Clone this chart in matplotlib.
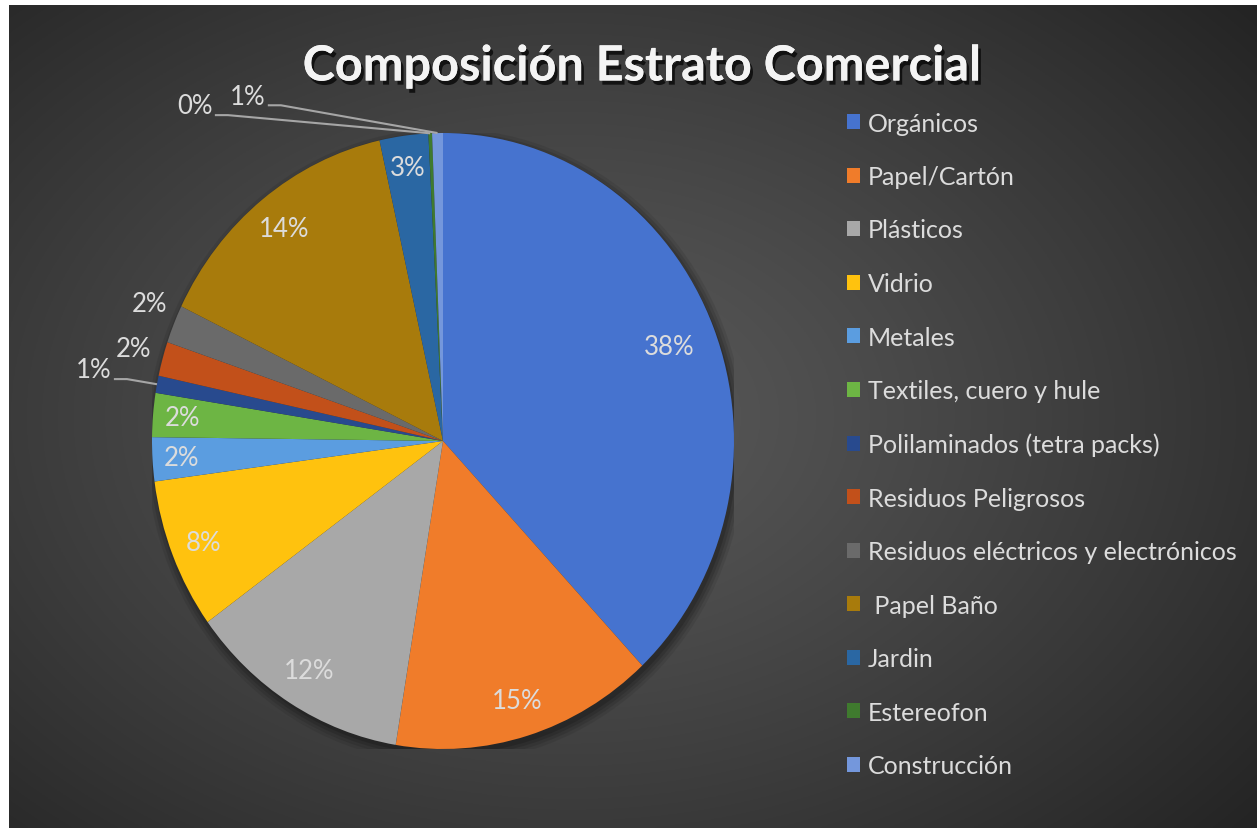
import numpy as np
import matplotlib.pyplot as plt
import matplotlib.patheffects as pe
from matplotlib.patches import Ellipse

# datos (porcentaje de cada componente)
categorias = ['Orgánicos', 'Papel/Cartón', 'Plásticos', 'Vidrio', 'Metales',
              'Textiles, cuero y hule', 'Polilaminados (tetra packs)',
              'Residuos Peligrosos', 'Residuos eléctricos y electrónicos',
              ' Papel Baño', 'Jardin', 'Estereofon', 'Construcción']
valores = [38.0, 14.6, 12.4, 7.9, 2.3, 2.3, 0.9, 1.8, 2.0, 14.3, 2.7, 0.2, 0.6]
colores = ['#4673cf', '#f07c2a', '#a8a8a8', '#ffc20e', '#5b9de0', '#6db544',
           '#284a8e', '#c2501a', '#6a6a6a', '#a87b0c', '#2a67a3', '#3f7a2e',
           '#7497dc']
titulo = 'Composición Estrato Comercial'

W, H = 1257, 829
fig = plt.figure(figsize=(W / 100, H / 100), dpi=100, facecolor='white')

# fondo con degradado radial
bg = fig.add_axes([9 / W, 0, 1 - 9 / W, 1 - 6 / H])
yy, xx = np.mgrid[0:1:400j, 0:1:600j]
d = np.sqrt(((xx - 0.45) / 0.75) ** 2 + ((yy - 0.5) / 0.8) ** 2)
d = np.clip(d / d.max(), 0, 1)
val = 0.35 - 0.21 * d ** 1.2
bg.imshow(np.dstack([val, val, val]), aspect='auto', extent=[0, 1, 0, 1])
bg.axis('off')

cx, cy, rx, ry = 443, 442, 291, 308
ax = fig.add_axes([(cx - rx) / W, (H - cy - ry) / H, 2 * rx / W, 2 * ry / H])
ax.patch.set_alpha(0)

# sombra
for k, a in enumerate([0.08, 0.10, 0.12, 0.15]):
    s = 1.03 - k * 0.01
    ax.add_patch(Ellipse((0.01, -0.016), 2 * s, 2 * s, color='black', alpha=a,
                         lw=0, zorder=0))

wedges, _ = ax.pie(valores, colors=colores, startangle=90, counterclock=False,
                   radius=1, wedgeprops=dict(linewidth=0))
ax.set_aspect('auto')
ax.set_xlim(-1, 1)
ax.set_ylim(-1, 1)
ax.axis('off')

txt_col = '#dcdcdc'
fs = 18.5
fam = 'Lato'
tot = sum(valores)

# etiquetas dentro
radios_in = {0: 0.835, 1: 0.88, 2: 0.875, 3: 0.887, 4: 0.9, 5: 0.9, 9: 0.88, 10: 0.895}
for i, r in radios_in.items():
    w = wedges[i]
    ang = np.deg2rad((w.theta1 + w.theta2) / 2)
    ax.text(r * np.cos(ang), r * np.sin(ang), f'{valores[i] / tot * 100:.0f}%',
            ha='center', va='center', color=txt_col, fontsize=fs, family=fam)

# etiquetas fuera sin linea
fuera = {8: (-1.007, 0.445), 7: (-1.065, 0.299)}
for i, (u, v) in fuera.items():
    ax.text(u, v, f'{valores[i] / tot * 100:.0f}%', ha='center', va='center',
            color=txt_col, fontsize=fs, family=fam)

# etiquetas con linea guia
guia = {6: (-1.199, 0.231), 11: (-0.852, 1.088), 12: (-0.670, 1.12)}
for i, (u, v) in guia.items():
    w = wedges[i]
    ang = np.deg2rad((w.theta1 + w.theta2) / 2)
    ex, ey = np.cos(ang), np.sin(ang)
    ax.text(u, v, f'{valores[i] / tot * 100:.0f}%', ha='center', va='center',
            color=txt_col, fontsize=fs, family=fam, clip_on=False)
    x0 = u + 0.068
    y0 = v - 0.03
    ax.plot([x0, x0 + 0.045, ex], [y0, y0, ey], color='#a6a6a6', lw=1.5,
            clip_on=False, solid_capstyle='butt')

fsl = 18
leg = fig.legend(wedges, categorias, loc='upper left',
                 bbox_to_anchor=(834 / W, 1 - 100 / H), frameon=False,
                 handlelength=0.55, handleheight=0.55,
                 handletextpad=0.3, labelspacing=1.22, borderpad=0,
                 prop=dict(family=fam, size=fsl))
for t in leg.get_texts():
    t.set_color(txt_col)

fig.text(642 / W, 1 - 67 / H, titulo, ha='center', va='center', color='#f4f4f4',
         fontsize=35, fontweight='bold', family=fam,
         path_effects=[pe.withSimplePatchShadow(offset=(2, -3), shadow_rgbFace='black',
                                               alpha=0.7), pe.Normal()])

fig.savefig('out.png', dpi=100, facecolor=fig.get_facecolor())
